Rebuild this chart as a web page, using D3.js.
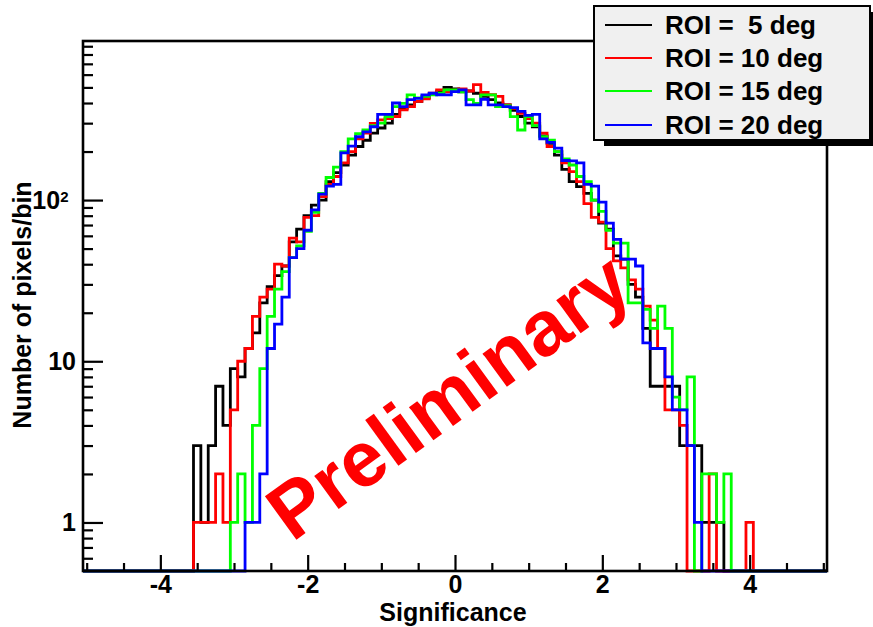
<!DOCTYPE html>
<html>
<head>
<meta charset="utf-8">
<script src="https://cdn.jsdelivr.net/npm/d3@7"></script>
<style>
  body { margin: 0; background: #fff; }
  text { font-family: "Liberation Sans", Arial, Helvetica, sans-serif; font-weight: bold; }
</style>
</head>
<body>
<script>
// bin centres (width 0.1), everything outside is empty
var binCenters = [-3.5,-3.4,-3.3,-3.2,-3.1,-3.0,-2.9,-2.8,-2.7,-2.6,-2.5,-2.4,-2.3,-2.2,-2.1,-2.0,
  -1.9,-1.8,-1.7,-1.6,-1.5,-1.4,-1.3,-1.2,-1.1,-1.0,-0.9,-0.8,-0.7,-0.6,-0.5,-0.4,-0.3,-0.2,-0.1,
  0.0,0.1,0.2,0.3,0.4,0.5,0.6,0.7,0.8,0.9,1.0,1.1,1.2,1.3,1.4,1.5,1.6,1.7,1.8,1.9,2.0,
  2.1,2.2,2.3,2.4,2.5,2.6,2.7,2.8,2.9,3.0,3.1,3.2,3.3,3.4,3.5,3.6,3.7,3.8,3.9,4.0];
var binWidth = 0.1;

var roi5 = [3,1,3,7,4,9,8,12,15,23,29,34,39,55,66,80,
  93,100,130,148,165,190,215,235,260,280,300,340,370,390,410,430,455,470,500,
  490,470,475,460,440,420,400,390,360,330,300,285,250,225,190,155,130,121,110,100,72,
  66,45,43,30,25,16,7,7,7,7,3,3,3,1,1,1,0,0,0,0];
var roi10 = [1,1,1,2,1,5,10,12,19,25,28,40,39,58,55,78,
  80,105,125,140,170,200,240,260,299,314,320,330,363,380,410,425,460,482,470,
  480,490,475,520,465,450,440,390,370,345,320,300,260,215,200,170,150,130,95,78,73,
  50,42,38,32,28,22,18,12,5,5,4,0,0,0,2,0,0,0,0,1];
var roi15 = [0,0,0,0,0,1,2,1,4,9,19,28,36,44,52,64,
  84,110,138,160,200,240,258,272,290,300,330,380,398,449,430,440,450,460,482,
  482,470,420,398,449,449,380,385,329,272,329,290,247,235,200,180,165,140,130,100,85,
  65,54,54,23,23,21,16,22,16,6,5,8,0,2,2,1,2,0,0,0];
var roi20 = [0,0,0,0,0,0,0,1,1,2,12,17,25,44,50,65,
  87,109,122,125,196,216,247,265,285,340,340,400,380,420,428,449,460,450,449,
  471,482,390,390,422,390,390,380,375,355,335,340,240,228,210,176,175,170,125,122,97,
  72,57,43,43,39,13,12,12,8,5,5,3,1,0,0,0,0,0,0,0];

var seriesNames = ['ROI =  5 deg', 'ROI = 10 deg', 'ROI = 15 deg', 'ROI = 20 deg'];
var seriesColors = ['#000000', '#ff0000', '#00ff00', '#0000ff'];
var seriesValues = [roi5, roi10, roi15, roi20];

var xDomain = [-5.05, 5.05];
var yDomain = [0.5, 970];
var xMajorTicks = [-4, -2, 0, 2, 4];
var xMinorTicks = [-5, -4.5, -3.5, -3, -2.5, -1.5, -1, -0.5, 0.5, 1, 1.5, 2.5, 3, 3.5, 4.5, 5];
var yMajorTicks = [1, 10, 100];
var yMinorTicks = [0.6,0.7,0.8,0.9,2,3,4,5,6,7,8,9,20,30,40,50,60,70,80,90,200,300,400,500,600,700,800,900];

function init(){
	var width = 873, height = 627;
	var left = 83, right = 827, top = 41, bottom = 571;

	var svg = d3.select('body').append('svg').attr('width', width).attr('height', height);

	var x = d3.scaleLinear().domain(xDomain).range([left, right]);
	var y = d3.scaleLog().domain(yDomain).range([bottom, top]);

	svg.append('clipPath').attr('id', 'plotclip')
		.append('rect').attr('x', left - 2).attr('y', top).attr('width', right - left + 4).attr('height', bottom - top + 2);

	// histograms
	var line = d3.line().x(function(d){ return x(d[0]); }).y(function(d){ return y(d[1]); });
	var hw = binWidth / 2;
	seriesValues.forEach(function(vals, s){
		var pts = [[xDomain[0], yDomain[0]], [binCenters[0] - hw, yDomain[0]]];
		binCenters.forEach(function(c, i){
			var v = Math.max(vals[i], yDomain[0]);
			pts.push([c - hw, v], [c + hw, v]);
		});
		pts.push([binCenters[binCenters.length - 1] + hw, yDomain[0]], [xDomain[1], yDomain[0]]);
		svg.append('path').attr('d', line(pts))
			.attr('clip-path', 'url(#plotclip)')
			.attr('fill', 'none')
			.attr('stroke', seriesColors[s])
			.attr('stroke-width', 2.8)
			.attr('stroke-linejoin', 'miter');
	});

	// axes
	var xMinor = d3.axisBottom(x).tickValues(xMinorTicks).tickSize(-8).tickFormat('');
	var xMajor = d3.axisBottom(x).tickValues(xMajorTicks).tickSize(-16).tickPadding(4)
		.tickFormat(function(d){ return String(d); });
	var yMinor = d3.axisLeft(y).tickValues(yMinorTicks).tickSize(-10).tickFormat('');
	var yMajor = d3.axisLeft(y).tickValues(yMajorTicks).tickSize(-20).tickPadding(7)
		.tickFormat(function(d){ return d === 100 ? '10' : String(d); });

	[xMinor, xMajor].forEach(function(ax){
		svg.append('g').attr('transform', 'translate(0,' + bottom + ')').call(ax);
	});
	[yMinor, yMajor].forEach(function(ax){
		svg.append('g').attr('transform', 'translate(' + left + ',0)').call(ax);
	});
	svg.selectAll('.domain').remove();
	svg.selectAll('.tick line').attr('stroke', '#000').attr('stroke-width', 2.2);
	svg.selectAll('.tick text').attr('fill', '#000').style('font-size', '25px')
		.style('font-family', '"Liberation Sans", Arial, sans-serif').style('font-weight', 'bold');

	// superscript for 10^2
	svg.selectAll('.tick text').filter(function(d){ return d === 100; })
		.attr('dx', '-0.3em')
		.append('tspan').attr('dy', '-0.45em').style('font-size', '15px').text('2');

	// frame
	svg.append('rect').attr('x', left).attr('y', top)
		.attr('width', right - left).attr('height', bottom - top)
		.attr('fill', 'none').attr('stroke', '#000').attr('stroke-width', 2.6);

	// axis titles
	svg.append('text').text('Significance')
		.attr('x', 453).attr('y', 621)
		.attr('text-anchor', 'middle').style('font-size', '25px');
	svg.append('text').text('Number of pixels/bin')
		.attr('transform', 'translate(31,305) rotate(-90)')
		.attr('text-anchor', 'middle').style('font-size', '25px');

	// Preliminary stamp
	svg.append('text').text('Preliminary')
		.attr('transform', 'translate(464,418) rotate(-36)')
		.attr('text-anchor', 'middle')
		.attr('fill', '#ff0000')
		.style('font-size', '78px');

	// legend
	var legX = 594, legY = 6, legW = 276, legH = 134;
	svg.append('rect').attr('x', legX + 10).attr('y', legY + 6).attr('width', legW).attr('height', legH).attr('fill', '#000');
	svg.append('rect').attr('x', legX).attr('y', legY).attr('width', legW).attr('height', legH)
		.attr('fill', '#f0f0f0').attr('stroke', '#000').attr('stroke-width', 2);
	var rowY = [25, 58, 91, 125];
	seriesNames.forEach(function(name, i){
		svg.append('line').attr('x1', 605).attr('x2', 652)
			.attr('y1', rowY[i]).attr('y2', rowY[i])
			.attr('stroke', seriesColors[i]).attr('stroke-width', 2.2);
		svg.append('text').text(name)
			.attr('x', 665).attr('y', rowY[i] + 9)
			.attr('xml:space', 'preserve').style('white-space', 'pre')
			.style('font-size', '26px');
	});
}
init();
</script>
</body>
</html>
